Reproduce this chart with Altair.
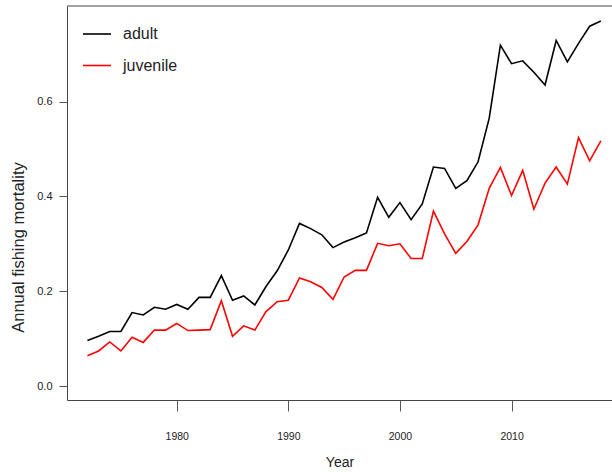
import altair as alt
import pandas as pd

years = list(range(1972, 2019))

adult = [
    0.096, 0.105, 0.115, 0.115, 0.155, 0.150, 0.166, 0.162, 0.172, 0.162,
    0.187, 0.187, 0.233, 0.181, 0.190, 0.171, 0.210, 0.243, 0.287, 0.343,
    0.332, 0.319, 0.292, 0.304, 0.313, 0.323, 0.398, 0.356, 0.387, 0.351,
    0.384, 0.462, 0.459, 0.417, 0.433, 0.473, 0.565, 0.719, 0.680, 0.686,
    0.662, 0.635, 0.729, 0.684, 0.723, 0.759, 0.770,
]

juvenile = [
    0.064, 0.074, 0.093, 0.074, 0.103, 0.092, 0.118, 0.118, 0.132, 0.117,
    0.118, 0.119, 0.180, 0.105, 0.127, 0.118, 0.157, 0.178, 0.181, 0.228,
    0.220, 0.208, 0.183, 0.230, 0.244, 0.244, 0.301, 0.296, 0.300, 0.269,
    0.269, 0.369, 0.321, 0.280, 0.305, 0.340, 0.417, 0.461, 0.402, 0.455,
    0.373, 0.428, 0.462, 0.426, 0.524, 0.475, 0.517,
]

stages = ["adult", "juvenile"]
stage_colors = ["#000000", "#ff0000"]
x_ticks = [1980, 1990, 2000, 2010]
y_ticks = [0.0, 0.2, 0.4, 0.6]

df = pd.DataFrame(
    {
        "Year": years * 2,
        "F": adult + juvenile,
        "stage": ["adult"] * len(years) + ["juvenile"] * len(years),
    }
)

FONT = "Liberation Sans"
W, H = 545, 394

lines = (
    alt.Chart(df)
    .mark_line(strokeWidth=1.6, clip=True)
    .encode(
        x=alt.X(
            "Year:Q",
            scale=alt.Scale(domain=[1970.17, 2019.0], nice=False, zero=False),
            axis=alt.Axis(
                values=x_ticks,
                format="d",
                grid=False,
                tickSize=11,
                tickColor="#555555",
                domainColor="#444444",
                labelFontSize=10.5,
                labelPadding=20,
                labelColor="#222222",
                titleFontSize=14,
                titleFontWeight="normal",
                titleColor="#222222",
                titleY=66,
                titleBaseline="alphabetic",
            ),
        ),
        y=alt.Y(
            "F:Q",
            title="Annual fishing mortality",
            scale=alt.Scale(domain=[-0.0295, 0.8017], nice=False, zero=False),
            axis=alt.Axis(
                values=y_ticks,
                format=".1f",
                grid=False,
                tickSize=8,
                tickColor="#555555",
                domainColor="#444444",
                labelFontSize=11,
                labelPadding=7,
                labelColor="#222222",
                titleFontSize=16.5,
                titleFontWeight="normal",
                titleColor="#222222",
                titleX=-49,
                titleY=241,
                titleBaseline="middle",
            ),
        ),
        color=alt.Color(
            "stage:N",
            scale=alt.Scale(domain=stages, range=stage_colors),
            legend=alt.Legend(
                title=None,
                orient="none",
                legendX=15,
                legendY=13,
                symbolType="stroke",
                symbolSize=784,
                symbolStrokeWidth=1.6,
                labelFontSize=16,
                labelFont=FONT,
                labelColor="#222222",
                labelOffset=11,
                rowPadding=8.5,
                padding=0,
            ),
        ),
    )
)

# top edge of the frame box
top_edge = alt.Chart(pd.DataFrame({"k": [0]})).mark_rule(
    color="#444444", strokeWidth=1
).encode(y=alt.value(0), x=alt.value(0), x2=alt.value(W))

chart = (
    alt.layer(lines, top_edge)
    .properties(
        width=W,
        height=H,
        autosize=alt.AutoSizeParams(type="none"),
        padding={"left": 67, "top": 6, "right": 0, "bottom": 72},
        background="white",
    )
    .configure_view(stroke=None)
    .configure_axis(labelFont=FONT, titleFont=FONT)
)

chart.save("out.html", embed_options={"renderer": "svg", "actions": False})
